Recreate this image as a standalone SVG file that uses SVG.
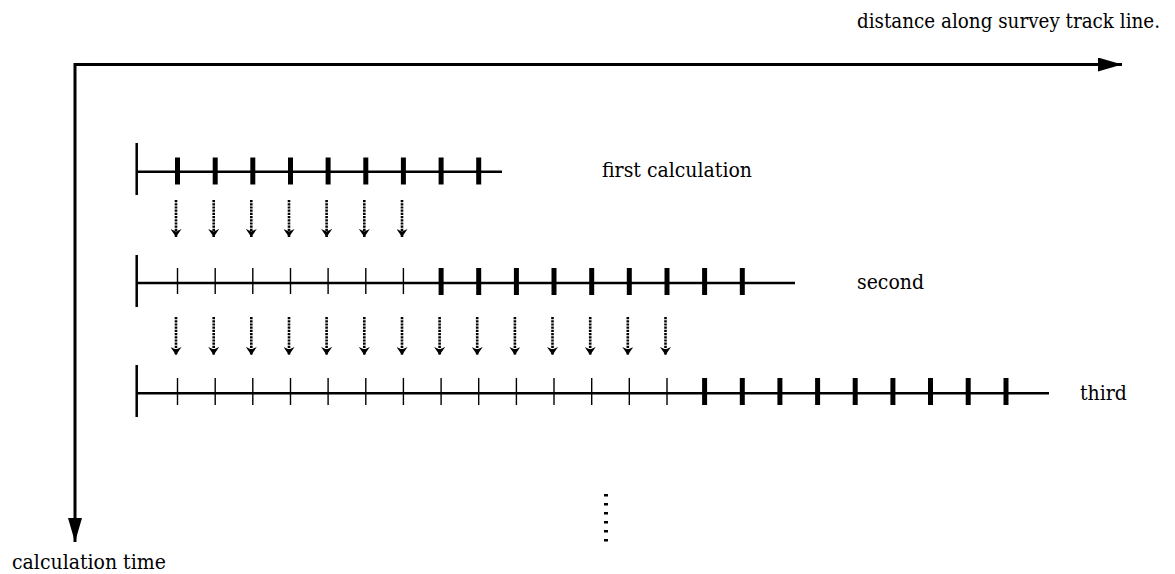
<svg xmlns="http://www.w3.org/2000/svg" width="1175" height="574" viewBox="0 0 1175 574">
  <style>
    .lbl { font-family: "DejaVu Serif Condensed", "DejaVu Serif", "Liberation Serif", serif; font-stretch: condensed; font-size: 21px; fill: #000; }
    .axis { stroke: #000; stroke-width: 3; fill: none; }
    .base { stroke: #000; stroke-width: 2.5; fill: none; }
    .start { stroke: #000; stroke-width: 2.5; }
    .thin { stroke: #000; stroke-width: 1.4; }
    .thick { stroke: #000; stroke-width: 5; }
    .flow { stroke: #000; stroke-width: 2.6; stroke-dasharray: 2.2 1; fill: none; }
  </style>
  <defs>
    <marker id="axisHead" viewBox="0 0 24 14" refX="24" refY="7" markerWidth="24" markerHeight="14" markerUnits="userSpaceOnUse" orient="auto">
      <path d="M0,0 L24,7 L0,14 Z" fill="#000"/>
    </marker>
    <marker id="flowHead" viewBox="0 0 8 11" refX="8" refY="5.5" markerWidth="8" markerHeight="11" markerUnits="userSpaceOnUse" orient="auto">
      <path d="M0,0 L8,5.5 L0,11 L2.5,5.5 Z" fill="#000"/>
    </marker>
  </defs>
  <rect width="1175" height="574" fill="#fff"/>

  <!-- axes -->
  <g id="axes">
    <path class="axis" d="M75,64.5 L1122,64.5" marker-end="url(#axisHead)"/>
    <path class="axis" d="M75,63 L75,542" marker-end="url(#axisHead)"/>
    <text class="lbl" x="857" y="28" textLength="303" lengthAdjust="spacingAndGlyphs">distance along survey track line.</text>
    <text class="lbl" x="12" y="569">calculation time</text>
  </g>

  <!-- first calculation: ticks 0..8 -->
  <g id="row1">
    <line class="start" x1="136.7" y1="143" x2="136.7" y2="195"/>
    <line class="base" x1="136.7" y1="171.7" x2="502" y2="171.7"/>
    <g class="thick">
      <line x1="177.5" y1="157.5" x2="177.5" y2="184.5"/>
      <line x1="215.2" y1="157.5" x2="215.2" y2="184.5"/>
      <line x1="252.8" y1="157.5" x2="252.8" y2="184.5"/>
      <line x1="290.5" y1="157.5" x2="290.5" y2="184.5"/>
      <line x1="328.1" y1="157.5" x2="328.1" y2="184.5"/>
      <line x1="365.8" y1="157.5" x2="365.8" y2="184.5"/>
      <line x1="403.4" y1="157.5" x2="403.4" y2="184.5"/>
      <line x1="441.1" y1="157.5" x2="441.1" y2="184.5"/>
      <line x1="478.7" y1="157.5" x2="478.7" y2="184.5"/>
    </g>
    <text class="lbl" x="602" y="177">first calculation</text>
  </g>

  <!-- second: ticks 0..6 reused, 7..15 new -->
  <g id="row2">
    <line class="start" x1="136.7" y1="255" x2="136.7" y2="307"/>
    <line class="base" x1="136.7" y1="283" x2="795" y2="283"/>
    <g class="thin">
      <line x1="177.5" y1="268" x2="177.5" y2="294"/>
      <line x1="215.2" y1="268" x2="215.2" y2="294"/>
      <line x1="252.8" y1="268" x2="252.8" y2="294"/>
      <line x1="290.5" y1="268" x2="290.5" y2="294"/>
      <line x1="328.1" y1="268" x2="328.1" y2="294"/>
      <line x1="365.8" y1="268" x2="365.8" y2="294"/>
      <line x1="403.4" y1="268" x2="403.4" y2="294"/>
    </g>
    <g class="thick">
      <line x1="441.1" y1="268" x2="441.1" y2="295"/>
      <line x1="478.7" y1="268" x2="478.7" y2="295"/>
      <line x1="516.4" y1="268" x2="516.4" y2="295"/>
      <line x1="554" y1="268" x2="554" y2="295"/>
      <line x1="591.7" y1="268" x2="591.7" y2="295"/>
      <line x1="629.3" y1="268" x2="629.3" y2="295"/>
      <line x1="667" y1="268" x2="667" y2="295"/>
      <line x1="704.6" y1="268" x2="704.6" y2="295"/>
      <line x1="742.3" y1="268" x2="742.3" y2="295"/>
    </g>
    <text class="lbl" x="857" y="288.5">second</text>
  </g>

  <!-- third: ticks 0..13 reused, 14..22 new -->
  <g id="row3">
    <line class="start" x1="136.7" y1="365" x2="136.7" y2="417"/>
    <line class="base" x1="136.7" y1="393.3" x2="1049" y2="393.3"/>
    <g class="thin">
      <line x1="177.5" y1="378" x2="177.5" y2="405"/>
      <line x1="215.2" y1="378" x2="215.2" y2="405"/>
      <line x1="252.8" y1="378" x2="252.8" y2="405"/>
      <line x1="290.5" y1="378" x2="290.5" y2="405"/>
      <line x1="328.1" y1="378" x2="328.1" y2="405"/>
      <line x1="365.8" y1="378" x2="365.8" y2="405"/>
      <line x1="403.4" y1="378" x2="403.4" y2="405"/>
      <line x1="441.1" y1="378" x2="441.1" y2="405"/>
      <line x1="478.7" y1="378" x2="478.7" y2="405"/>
      <line x1="516.4" y1="378" x2="516.4" y2="405"/>
      <line x1="554" y1="378" x2="554" y2="405"/>
      <line x1="591.7" y1="378" x2="591.7" y2="405"/>
      <line x1="629.3" y1="378" x2="629.3" y2="405"/>
      <line x1="667" y1="378" x2="667" y2="405"/>
    </g>
    <g class="thick">
      <line x1="704.6" y1="378" x2="704.6" y2="405"/>
      <line x1="742.3" y1="378" x2="742.3" y2="405"/>
      <line x1="779.9" y1="378" x2="779.9" y2="405"/>
      <line x1="817.6" y1="378" x2="817.6" y2="405"/>
      <line x1="855.2" y1="378" x2="855.2" y2="405"/>
      <line x1="892.9" y1="378" x2="892.9" y2="405"/>
      <line x1="930.5" y1="378" x2="930.5" y2="405"/>
      <line x1="968.2" y1="378" x2="968.2" y2="405"/>
      <line x1="1006" y1="378" x2="1006" y2="405"/>
    </g>
    <text class="lbl" x="1080" y="400">third</text>
  </g>

  <!-- carried-over values between calculations -->
  <g id="connectors">
    <g class="flow">
      <path d="M176,200 V237" marker-end="url(#flowHead)"/>
      <path d="M213.7,200 V237" marker-end="url(#flowHead)"/>
      <path d="M251.3,200 V237" marker-end="url(#flowHead)"/>
      <path d="M289,200 V237" marker-end="url(#flowHead)"/>
      <path d="M326.6,200 V237" marker-end="url(#flowHead)"/>
      <path d="M364.3,200 V237" marker-end="url(#flowHead)"/>
      <path d="M402,200 V237" marker-end="url(#flowHead)"/>

      <path d="M176,317 V355" marker-end="url(#flowHead)"/>
      <path d="M213.7,317 V355" marker-end="url(#flowHead)"/>
      <path d="M251.3,317 V355" marker-end="url(#flowHead)"/>
      <path d="M289,317 V355" marker-end="url(#flowHead)"/>
      <path d="M326.6,317 V355" marker-end="url(#flowHead)"/>
      <path d="M364.3,317 V355" marker-end="url(#flowHead)"/>
      <path d="M402,317 V355" marker-end="url(#flowHead)"/>
      <path d="M439.6,317 V355" marker-end="url(#flowHead)"/>
      <path d="M477.2,317 V355" marker-end="url(#flowHead)"/>
      <path d="M514.9,317 V355" marker-end="url(#flowHead)"/>
      <path d="M552.5,317 V355" marker-end="url(#flowHead)"/>
      <path d="M590.2,317 V355" marker-end="url(#flowHead)"/>
      <path d="M627.8,317 V355" marker-end="url(#flowHead)"/>
      <path d="M665.5,317 V355" marker-end="url(#flowHead)"/>
    </g>
  </g>

  <!-- continuation dots -->
  <g id="ellipsis" fill="#000">
    <rect x="604" y="494" width="4" height="2.5"/>
    <rect x="604" y="503" width="4" height="2.5"/>
    <rect x="604" y="512" width="4" height="2.5"/>
    <rect x="604" y="521" width="4" height="2.5"/>
    <rect x="604" y="530" width="4" height="2.5"/>
    <rect x="604" y="539" width="4" height="2.5"/>
  </g>
</svg>
